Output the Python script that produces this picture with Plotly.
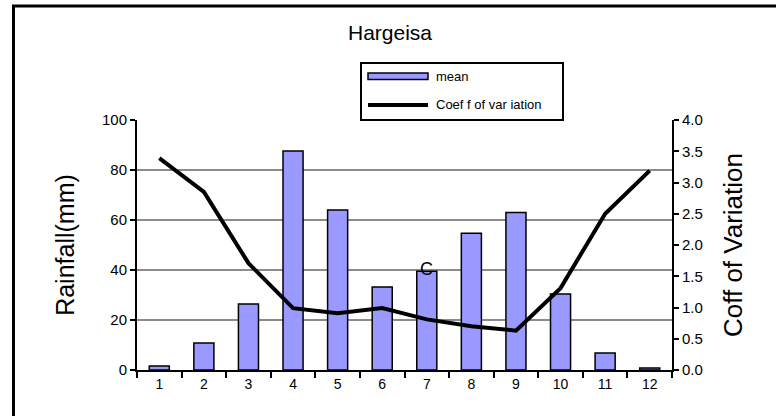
import plotly.graph_objects as go

months = [str(m) for m in range(1, 13)]
mean_rain = [1.6, 10.8, 26.4, 87.6, 64.0, 33.2, 39.5, 54.7, 63.0, 30.4, 6.8, 0.8]
coeff_var = [3.39, 2.85, 1.71, 0.99, 0.91, 0.99, 0.81, 0.70, 0.63, 1.31, 2.50, 3.19]
left_ticks = [0, 20, 40, 60, 80, 100]
right_ticks = [0, 0.5, 1.0, 1.5, 2.0, 2.5, 3.0, 3.5, 4.0]
series_names = ["mean", "Coeff of variation"]

# plot area pixel geometry
L, R, T, B = 137, 672, 120, 370
W, H = 776, 416
PW, PH = R - L, B - T

def px(x):
    return (x - L) / PW

def py(y):
    return (B - y) / PH

fig = go.Figure()
fig.add_trace(go.Bar(
    x=months, y=mean_rain, name=series_names[0],
    marker=dict(color="#9999FF", line=dict(color="black", width=1.5)),
    showlegend=False,
))
fig.add_trace(go.Scatter(
    x=months, y=coeff_var, name=series_names[1], yaxis="y2", mode="lines",
    line=dict(color="black", width=4), showlegend=False,
))

font = "Liberation Sans, Arial, sans-serif"
fig.update_layout(
    width=W, height=H,
    margin=dict(l=L, r=W - R, t=T, b=H - B, pad=0),
    paper_bgcolor="white", plot_bgcolor="white",
    font=dict(family=font, color="black"),
    bargap=0.55,
    title=dict(text="Hargeisa", x=390 / W, xanchor="center", y=1 - 33 / H, yanchor="middle",
               font=dict(size=21, family=font, color="black")),
    xaxis=dict(type="category", tickson="boundaries", ticks="outside", ticklen=6, tickwidth=2,
               tickcolor="black", showline=True, linecolor="black", linewidth=2,
               showgrid=False, tickfont=dict(size=14), range=[-0.5, 11.5]),
    yaxis=dict(range=[0, 100], tickvals=left_ticks, ticks="outside", ticklen=5, tickwidth=2,
               tickcolor="black", showline=True, linecolor="black", linewidth=2,
               showgrid=True, gridcolor="#8c8c8c", gridwidth=1.5, zeroline=False,
               tickfont=dict(size=15), ticksuffix=" ",
               title=dict(text="Rainfall(mm)", font=dict(size=25), standoff=20)),
    yaxis2=dict(range=[0, 4], tickvals=right_ticks, tickformat=".1f", overlaying="y", side="right",
                ticks="outside", ticklen=5, tickwidth=2, tickcolor="black",
                showline=True, linecolor="black", linewidth=2, showgrid=False, zeroline=False,
                tickfont=dict(size=15),
                title=dict(text="Coff of Variation", font=dict(size=26), standoff=22)),
)

shapes = []
# outer chart border (only top-left visible)
shapes.append(dict(type="rect", xref="paper", yref="paper",
                   x0=px(13.5), x1=px(W + 20), y0=py(H + 20), y1=py(6),
                   line=dict(color="black", width=3), fillcolor="rgba(0,0,0,0)", layer="below"))
# legend box
shapes.append(dict(type="rect", xref="paper", yref="paper",
                   x0=px(361), x1=px(563), y0=py(120), y1=py(63),
                   line=dict(color="black", width=2), fillcolor="white"))
shapes.append(dict(type="rect", xref="paper", yref="paper",
                   x0=px(368), x1=px(428), y0=py(79.5), y1=py(73),
                   line=dict(color="black", width=1.5), fillcolor="#9999FF"))
shapes.append(dict(type="line", xref="paper", yref="paper",
                   x0=px(368), x1=px(428), y0=py(105), y1=py(105),
                   line=dict(color="black", width=4)))
fig.update_layout(shapes=shapes)

fig.add_annotation(xref="paper", yref="paper", x=px(434), y=py(76.5), xanchor="left",
                   yanchor="middle", text=series_names[0], showarrow=False,
                   font=dict(size=13, family=font))
fig.add_annotation(xref="paper", yref="paper", x=px(434), y=py(105), xanchor="left",
                   yanchor="middle", text="Coef f of var iation", showarrow=False,
                   font=dict(size=13, family=font))
fig.add_annotation(x=6, y=40.5, xref="x", yref="y", text="C", showarrow=False,
                   yanchor="middle", font=dict(size=18, family=font))

fig.write_html("out.html", post_script="document.body.style.margin='0';",
               config={"displayModeBar": False})
